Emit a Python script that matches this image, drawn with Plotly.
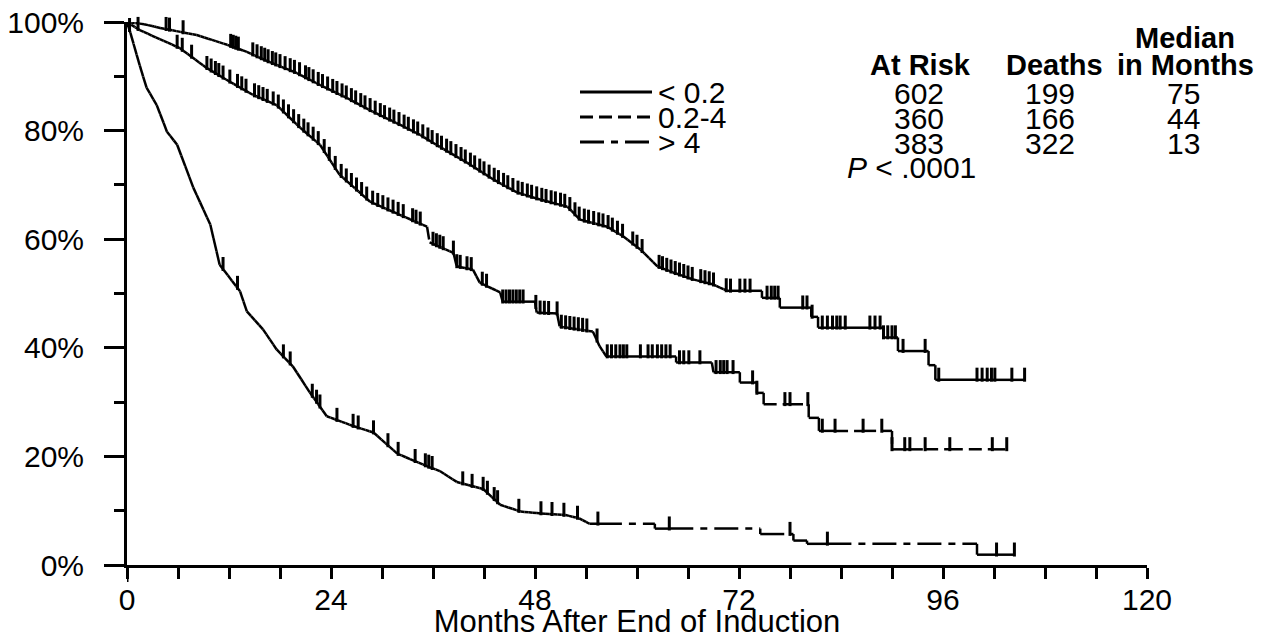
import numpy as np
import plotly.graph_objects as go

# ---------------- data ----------------
# Kaplan-Meier curves: knot times (months) and survival (%)
t_low = [0, 2.0, 3.9, 8.2, 11.8, 14.1, 16.8, 20.0, 22.7, 25.9, 28.9, 32.1, 34.5, 36.8, 40.0, 43.1,
         45.9, 48.6, 51.8, 53.3, 56.5, 58.4, 60.4, 62.4, 64.2, 66.6, 68.9, 70.6,
         74.7, 74.7, 76.8, 76.8, 80.5, 80.5, 81.3, 81.3, 89.0, 89.0, 90.7, 90.7, 94.3, 94.3,
         95.1, 95.1, 105.6]
s_low = [100, 99.6, 98.9, 97.6, 95.8, 94.5, 92.6, 90.6, 88.4, 86.0, 83.5, 81.1, 79.2, 77.0, 74.1, 71.0,
         68.6, 67.3, 66.0, 63.6, 62.3, 60.5, 58.1, 55.0, 53.9, 52.6, 51.7, 50.5,
         50.5, 49.2, 49.2, 47.4, 47.4, 45.7, 45.7, 43.7, 43.7, 41.9, 41.9, 39.4, 39.4, 36.8,
         36.8, 34.1, 34.1]

t_mid = [0, 1.5, 6.2, 9.4, 12.1, 14.8, 17.6, 20.4, 22.7, 25.0, 28.6, 31.8, 35.3, 35.6, 38.4, 38.8,
         40.7, 41.5, 43.9, 44.2, 48.0, 48.2, 50.6, 50.9, 54.8, 55.6, 56.4,
         64.6, 64.6, 68.8, 69.0, 72.1, 72.1, 74.1, 74.1, 74.9, 74.9, 80.2, 80.2, 81.4, 81.4,
         90.0, 90.0, 103.5]
s_mid = [100, 98.5, 95.2, 91.5, 89.0, 86.6, 84.7, 80.5, 77.4, 71.9, 66.9, 64.7, 62.3, 59.4, 57.5, 55.0,
         54.4, 52.0, 50.2, 48.5, 48.5, 46.5, 46.3, 43.9, 43.0, 40.3, 38.4,
         38.4, 37.3, 37.3, 35.5, 35.5, 33.6, 33.6, 31.7, 31.7, 29.6, 29.6, 27.1, 27.1, 24.7,
         24.7, 21.3, 21.3]

t_high = [0, 0.4, 1.5, 2.3, 3.5, 4.7, 5.9, 7.8, 9.8, 10.9, 13.3, 14.1, 16.0, 17.6, 19.5, 21.5, 23.5,
          26.6, 29.0, 31.8, 35.3, 36.8, 38.8, 41.9, 43.9, 46.3, 48.7, 51.6, 53.2, 54.4,
          62.1, 62.1, 74.5, 74.5, 78.4, 78.4, 80.0, 80.0, 100.0, 100.0, 104.4]
s_high = [100, 98.0, 92.0, 87.9, 84.7, 79.8, 77.4, 69.5, 62.7, 55.3, 50.4, 46.7, 43.4, 39.7, 36.6, 31.8, 27.4,
          25.6, 24.4, 20.5, 18.2, 17.3, 15.3, 14.0, 11.1, 9.85, 9.5, 9.2, 8.6, 7.6,
          7.6, 6.7, 6.7, 5.7, 5.7, 4.5, 4.5, 3.9, 3.9, 1.9, 1.9]

# censored observations (months)
cens_low = [0.3, 0.6, 0.9, 1.2, 3.2, 4.6, 5.0, 6.6, 12.2, 12.5, 12.8, 13.1, 14.8, 15.3, 15.8, 16.2, 16.6,
            17.1, 17.5, 18.0, 18.6, 19.2, 19.7, 20.3, 21.0, 21.4, 21.9, 22.5, 23.0, 23.6, 24.2, 24.7,
            25.3, 25.8, 26.4, 26.9, 27.5, 28.0, 28.6, 29.2, 29.8, 30.3, 30.9, 31.4, 32.0, 32.6, 33.1,
            33.7, 34.2, 34.8, 35.4, 35.9, 36.5, 37.0, 37.6, 38.1, 38.7, 39.3, 39.8, 40.4, 40.9, 41.5,
            42.0, 42.6, 43.2, 43.7, 44.3, 44.8, 45.4, 46.0, 46.5, 47.1, 47.6, 48.2, 48.8, 49.3, 49.9,
            50.4, 51.0, 51.5, 52.1, 52.7, 53.2, 53.8, 54.3, 54.9, 55.5, 56.0, 56.6, 57.1, 57.7, 58.3,
            59.5, 60.0, 60.6, 62.6, 63.0, 63.5, 64.0, 64.5, 65.0, 65.5, 66.0, 66.5, 67.5, 68.0, 68.5,
            69.0, 70.5, 71.0, 72.1, 72.7, 73.3, 75.3, 75.8, 76.2, 76.6, 79.5, 80.0, 80.6, 81.8, 82.4,
            83.0, 83.5, 83.9, 84.5, 87.4, 88.0, 88.6, 89.0, 89.5, 90.0, 90.4, 91.3, 93.9, 95.5, 100.0,
            100.6, 101.2, 101.7, 102.1, 104.1, 105.6]
cens_mid = [0.5, 0.9, 1.3, 5.9, 6.5, 7.6, 9.4, 9.9, 10.4, 10.8, 11.3, 12.1, 13.0, 13.5, 14.0, 15.0, 15.5,
            16.0, 16.5, 17.2, 17.8, 18.4, 19.0, 19.6, 20.2, 20.8, 21.3, 21.9, 22.5, 23.2, 23.8, 24.5,
            25.2, 25.8, 26.4, 27.0, 27.6, 28.2, 28.9, 29.5, 30.1, 30.7, 31.3, 31.9, 32.5, 33.6, 34.0,
            34.5, 36.0, 36.4, 36.8, 37.2, 38.4, 38.8, 39.2, 40.0, 40.5, 41.8, 42.3, 44.2, 44.6, 45.0,
            45.4, 45.8, 46.2, 46.6, 48.1, 48.6, 49.1, 49.6, 50.6, 51.1, 51.6, 52.1, 52.6, 53.1, 53.6,
            54.1, 55.3, 56.5, 57.0, 57.5, 58.0, 58.4, 58.8, 60.4, 61.3, 61.8, 62.4, 62.9, 63.4, 63.9,
            65.0, 65.5, 66.1, 67.4, 69.3, 69.8, 70.2, 70.6, 71.3, 73.6, 74.1, 77.4, 78.0, 80.1, 81.8,
            83.3, 86.6, 88.8, 90.0, 91.5, 92.1, 93.9, 96.8, 101.8, 103.5]
cens_high = [0.3, 11.3, 13.0, 18.4, 19.2, 21.8, 22.3, 22.7, 24.7, 26.6, 27.2, 29.0, 30.7, 31.9, 33.9,
             35.1, 35.5, 35.9, 39.5, 40.6, 41.9, 42.4, 43.2, 43.6, 46.1, 48.7, 50.0, 51.4, 53.0, 55.4,
             63.8, 78.0, 82.4, 102.3, 104.4]

groups = ["< 0.2", "0.2-4", "> 4"]
at_risk = ["602", "360", "383"]
deaths = ["199", "166", "322"]
medians = ["75", "44", "13"]
p_text = "<i>P</i> < .0001"
x_title = "Months After End of Induction"
x_ticks = [0, 24, 48, 72, 96, 120]
y_ticks = [0, 20, 40, 60, 80, 100]

# ---------------- styling ----------------
FONT = "Liberation Sans, Arial, sans-serif"
W, H = 1266, 639
L, R, T, B = 127, 1147, 22, 565
dashes = ["solid", "13px,6px", "24px,7px,7px,7px"]
LW = 2.5
FS = 30


def px2paper(px, py):
    return (px - L) / (R - L), (B - py) / (B - T)


def build_path(t, s, cens):
    """Split the curve into short sub-paths at each knot and censoring time
    (the dash pattern restarts on each sub-path, as in the original drawing)."""
    t = np.asarray(t, float)
    s = np.asarray(s, float)
    xs, ys = [], []
    for i in range(len(t) - 1):
        a, b = t[i], t[i + 1]
        if b == a:
            xs += [a, b, None]
            ys += [s[i], s[i + 1], None]
            continue
        pts = [a] + [c for c in cens if a < c < b] + [b]
        if s[i] != s[i + 1]:
            # run of many small event steps: draw as many short pieces
            n = int(np.ceil((b - a) / 0.5))
            pts = sorted(set(pts) | set(np.linspace(a, b, n + 1).tolist()))
        for p, q in zip(pts[:-1], pts[1:]):
            xs += [p, q, None]
            ys += [float(np.interp(p, [a, b], [s[i], s[i + 1]])),
                   float(np.interp(q, [a, b], [s[i], s[i + 1]])), None]
    return xs, ys


fig = go.Figure()
curves = [(t_low, s_low, cens_low), (t_mid, s_mid, cens_mid), (t_high, s_high, cens_high)]
for k, (t, s, c) in enumerate(curves):
    xs, ys = build_path(t, s, c)
    fig.add_trace(go.Scatter(x=xs, y=ys, mode="lines", connectgaps=False,
                             line=dict(color="black", width=LW, dash=dashes[k], simplify=False),
                             hoverinfo="skip", showlegend=False, cliponaxis=False))
    cy = np.interp(c, t, s) + 0.95
    fig.add_trace(go.Scatter(x=c, y=cy, mode="markers", showlegend=False, hoverinfo="skip",
                             cliponaxis=False,
                             marker=dict(symbol="line-ns", size=10, color="black",
                                         line=dict(color="black", width=3))))

# longer tick at x = 0 (axis line continues below the x axis)
fig.add_shape(type="line", xref="x", yref="paper", x0=0, x1=0, y0=0, y1=-17 / (B - T),
              line=dict(color="black", width=3))

# legend samples and table
row_y = [92, 117, 142]
for k in range(3):
    x0, y0 = px2paper(580, row_y[k])
    x1, _ = px2paper(652, row_y[k])
    fig.add_shape(type="line", xref="paper", yref="paper", x0=x0, x1=x1, y0=y0, y1=y0,
                  line=dict(color="black", width=3, dash=dashes[k]))
    ax, ay = px2paper(656, row_y[k])
    fig.add_annotation(x=ax, y=ay, xref="paper", yref="paper", text=groups[k], showarrow=False,
                       xanchor="left", yanchor="middle", font=dict(size=30, color="black", family=FONT))
    for colx, vals in [(919, at_risk), (1050, deaths), (1183, medians)]:
        cx, cy2 = px2paper(colx, row_y[k] + 1)
        fig.add_annotation(x=cx, y=cy2, xref="paper", yref="paper", text=vals[k], showarrow=False,
                           xanchor="center", yanchor="middle",
                           font=dict(size=30, color="black", family=FONT))

headers = [(920, 65, "At Risk"), (1054, 65, "Deaths"), (1185, 65, "in Months"), (1185, 38, "Median")]
for hx, hy, txt in headers:
    cx, cy2 = px2paper(hx, hy)
    fig.add_annotation(x=cx, y=cy2, xref="paper", yref="paper", text="<b>%s</b>" % txt,
                       showarrow=False, xanchor="center", yanchor="middle",
                       font=dict(size=29, color="black", family=FONT))
px_, py_ = px2paper(845, 167)
fig.add_annotation(x=px_, y=py_, xref="paper", yref="paper", text=p_text, showarrow=False,
                   xanchor="left", yanchor="middle", font=dict(size=30, color="black", family=FONT))

fig.update_layout(
    width=W, height=H,
    margin=dict(l=L, r=W - R, t=T, b=H - B, pad=0, autoexpand=False),
    paper_bgcolor="white", plot_bgcolor="white",
    font=dict(family=FONT, color="black", size=FS),
    xaxis=dict(range=[0, 120], tickvals=x_ticks, ticktext=[str(v) for v in x_ticks],
               ticks="outside", ticklen=11, automargin=False,
               tickwidth=2.5, tickcolor="black", showline=True, linecolor="black", linewidth=3,
               showgrid=False, zeroline=False, tickfont=dict(size=FS), ticklabelstandoff=-5,
               minor=dict(dtick=6, ticks="outside", ticklen=11, tickwidth=2.5, tickcolor="black"),
               title=dict(text=x_title, font=dict(size=31), standoff=2)),
    yaxis=dict(range=[0, 100], tickvals=y_ticks, ticktext=["%d%%" % v for v in y_ticks],
               ticks="outside", automargin=False,
               ticklen=20, tickwidth=3, tickcolor="black", showline=True, linecolor="black",
               linewidth=3, showgrid=False, zeroline=False, tickfont=dict(size=FS),
               ticklabelstandoff=14,
               minor=dict(dtick=10, ticks="outside", ticklen=10, tickwidth=3, tickcolor="black")),
)

fig.write_html("out.html", config={"displayModeBar": False},
               post_script="document.body.style.margin='0';document.body.style.overflow='hidden';")
